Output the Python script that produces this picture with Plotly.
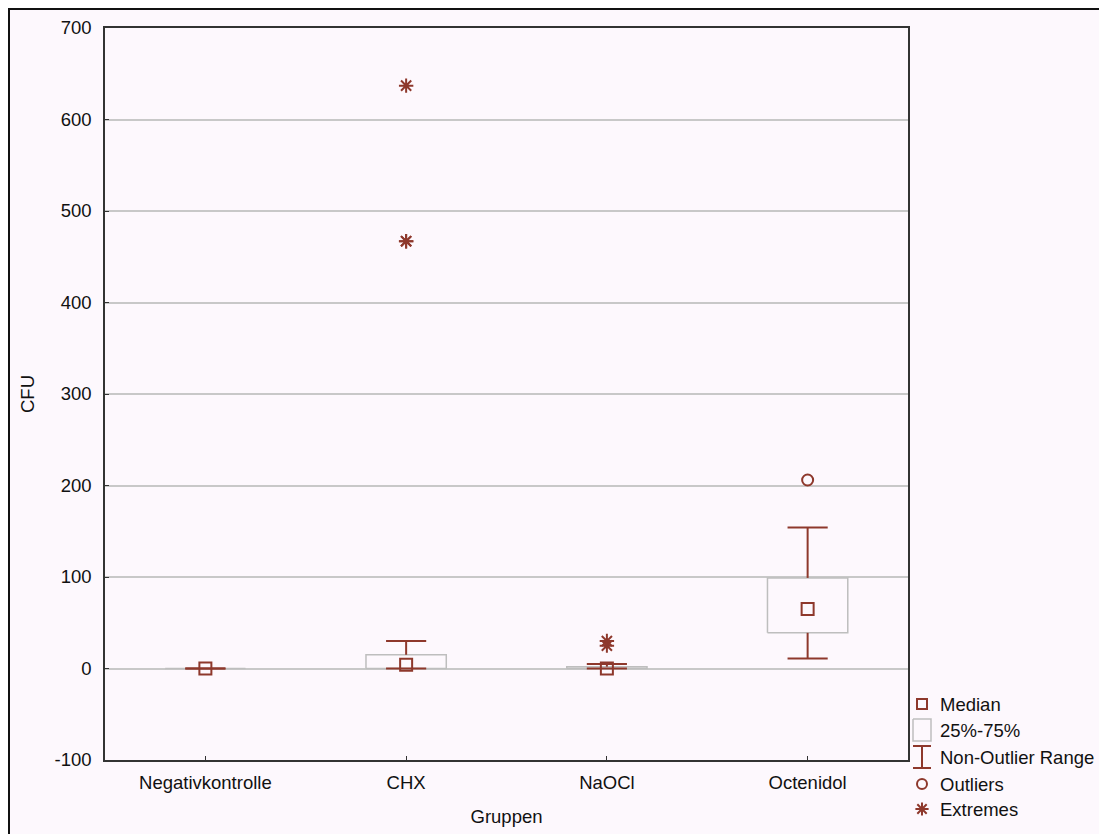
import plotly.graph_objects as go

# ---- data ----
groups = ["Negativkontrolle", "CHX", "NaOCl", "Octenidol"]
medians = [0, 4, 0, 65]
q1 = [0, 0, 0, 39]
q3 = [0, 15, 2, 99]
whisk_lo = [0, 0, 0, 11]
whisk_hi = [0, 30, 5, 154]
outlier_groups = ["Octenidol"]
outlier_values = [206]
extreme_groups = ["CHX", "CHX", "CHX", "NaOCl", "NaOCl"]
extreme_values = [637, 467, 467, 30, 25]

y_ticks = [-100, 0, 100, 200, 300, 400, 500, 600, 700]
y_ticktext = ["-100", "0", "100", "200", "300", "400", "500", "600", "700"]
legend_labels = ["Median", "25%-75%", "Non-Outlier Range", "Outliers", "Extremes"]

# ---- style ----
RED = "#8E382C"
BOXGRAY = "#BEBEBE"
GRID = "#C8C8C8"
BG = "#FDF8FD"
FONT = "Liberation Sans, Arial, sans-serif"
FS = 18.5
W, H = 1107, 834
OFF = 8  # page body margin
BOX_HALF = 0.2
CAP_HALF = 0.1

pos = {g: i for i, g in enumerate(groups)}

fig = go.Figure()

# boxes
bx, by = [], []
for i in range(len(groups)):
    bx += [i - BOX_HALF, i + BOX_HALF, i + BOX_HALF, i - BOX_HALF, i - BOX_HALF, None]
    by += [q1[i], q1[i], q3[i], q3[i], q1[i], None]
fig.add_trace(go.Scatter(x=bx, y=by, mode="lines", line=dict(color=BOXGRAY, width=1.5),
                         hoverinfo="skip", showlegend=False))

# whiskers
wx, wy = [], []
for i in range(len(groups)):
    wx += [i, i, None, i, i, None]
    wy += [q3[i], whisk_hi[i], None, q1[i], whisk_lo[i], None]
    wx += [i - CAP_HALF, i + CAP_HALF, None, i - CAP_HALF, i + CAP_HALF, None]
    wy += [whisk_hi[i], whisk_hi[i], None, whisk_lo[i], whisk_lo[i], None]
fig.add_trace(go.Scatter(x=wx, y=wy, mode="lines", line=dict(color=RED, width=2),
                         hoverinfo="skip", showlegend=False))

# medians
fig.add_trace(go.Scatter(x=list(range(len(groups))), y=medians, mode="markers",
                         marker=dict(symbol="square-open", size=12, color=RED, line=dict(width=2, color=RED)),
                         showlegend=False))
# outliers
fig.add_trace(go.Scatter(x=[pos[g] for g in outlier_groups], y=outlier_values, mode="markers",
                         marker=dict(symbol="circle-open", size=11, color=RED, line=dict(width=2, color=RED)),
                         showlegend=False))
# extremes
fig.add_trace(go.Scatter(x=[pos[g] for g in extreme_groups], y=extreme_values, mode="markers",
                         marker=dict(symbol="asterisk-open", size=12, color=RED, line=dict(width=2, color=RED)),
                         showlegend=False))

# ---- manual legend on a pixel-coordinate helper axis (page pixel coords) ----
LDX = [0.78, 1.0]
LDY = [0.0, 0.2]
lx_range = [OFF + LDX[0] * W, OFF + LDX[1] * W]
ly_range = [OFF + H - LDY[0] * H, OFF + H - LDY[1] * H]
sym_x = 922
text_x = 938
rows_y = [704, 730, 757, 784, 809]

common = dict(xaxis="x2", yaxis="y2", hoverinfo="skip", showlegend=False, cliponaxis=False)
fig.add_trace(go.Scatter(x=[sym_x], y=[rows_y[0]], mode="markers",
                         marker=dict(symbol="square-open", size=10, color=RED, line=dict(width=2, color=RED)),
                         **common))
fig.add_trace(go.Scatter(x=[sym_x - 9, sym_x + 9, sym_x + 9, sym_x - 9, sym_x - 9],
                         y=[rows_y[1] - 11, rows_y[1] - 11, rows_y[1] + 11, rows_y[1] + 11, rows_y[1] - 11],
                         mode="lines", line=dict(color=BOXGRAY, width=1.5), **common))
fig.add_trace(go.Scatter(x=[sym_x - 9, sym_x + 9, None, sym_x, sym_x, None, sym_x - 9, sym_x + 9],
                         y=[rows_y[2] - 11, rows_y[2] - 11, None, rows_y[2] - 11, rows_y[2] + 11, None,
                            rows_y[2] + 11, rows_y[2] + 11],
                         mode="lines", line=dict(color=RED, width=2), **common))
fig.add_trace(go.Scatter(x=[sym_x], y=[rows_y[3]], mode="markers",
                         marker=dict(symbol="circle-open", size=10, color=RED, line=dict(width=2, color=RED)),
                         **common))
fig.add_trace(go.Scatter(x=[sym_x], y=[rows_y[4]], mode="markers",
                         marker=dict(symbol="asterisk-open", size=11, color=RED, line=dict(width=2, color=RED)),
                         **common))

annotations = []
for lab, yy in zip(legend_labels, rows_y):
    annotations.append(dict(x=text_x, y=yy, xref="x2", yref="y2", text=lab, showarrow=False,
                            xanchor="left", yanchor="middle", font=dict(size=FS, color="#111111", family=FONT)))

# plot area in page pixels: left 105, right 908, top 28, bottom 760
dom_x = [(105 - OFF) / W, (908 - OFF) / W]
dom_y = [(H - (760 - OFF)) / H, (H - (28 - OFF)) / H]

fig.update_layout(
    width=W, height=H,
    margin=dict(l=0, r=0, t=0, b=0, autoexpand=False),
    paper_bgcolor=BG,
    plot_bgcolor="rgba(0,0,0,0)",
    font=dict(family=FONT, size=FS, color="#111111"),
    showlegend=False,
    annotations=annotations,
    xaxis=dict(domain=dom_x, range=[-0.5, len(groups) - 0.5], tickvals=list(range(len(groups))),
               ticktext=groups, showgrid=False, zeroline=False, showline=True, linecolor="#333333",
               linewidth=1.5, mirror=True, ticks="inside", ticklen=4, tickcolor="#333333",
               ticklabelstandoff=5, automargin=False,
               title=dict(text="Gruppen", standoff=18, font=dict(size=FS))),
    yaxis=dict(domain=dom_y, range=[-100, 700], tickvals=y_ticks, ticktext=y_ticktext,
               showgrid=True, gridcolor=GRID,
               gridwidth=1.5, zeroline=False, showline=True, linecolor="#333333", linewidth=1.5,
               mirror=True, ticks="inside", ticklen=4, tickcolor="#333333", ticklabelstandoff=8,
               automargin=False, title=dict(text="CFU", standoff=15, font=dict(size=FS))),
    xaxis2=dict(domain=LDX, range=lx_range, visible=False, fixedrange=True),
    yaxis2=dict(domain=LDY, range=ly_range, visible=False, fixedrange=True),
    shapes=[dict(type="rect", xref="paper", yref="paper", x0=1 / W, x1=1.05, y0=-0.05,
                 y1=(H - 1) / H, line=dict(color="#111111", width=2), fillcolor="rgba(0,0,0,0)",
                 layer="below")],
)

fig.write_html("out.html")
